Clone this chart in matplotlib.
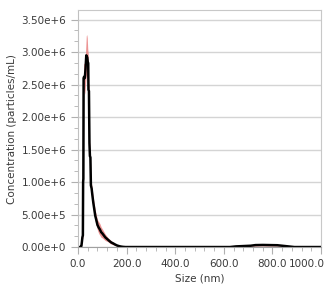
import numpy as np
import matplotlib
matplotlib.use("Agg")
import matplotlib.pyplot as plt
from matplotlib.ticker import FuncFormatter, MultipleLocator, AutoMinorLocator

# size (nm) and mean concentration (particles/mL)
size = [0, 12, 14, 16, 18, 20, 21, 22, 23, 25, 28, 31, 34, 36, 38, 40, 42, 43, 45,
        47, 49, 51, 53, 56, 59, 63, 67, 71, 75, 80, 85, 90, 95, 100, 106, 112, 118,
        124, 130, 137, 145, 152, 160, 168, 176, 185, 195, 600, 625, 650, 680, 710,
        730, 760, 790, 820, 840, 860, 890, 900, 1000]
conc = [0, 0, 0.02e6, 0.08e6, 0.15e6, 0.18e6, 1.0e6, 1.05e6, 2.6e6, 2.62e6, 2.6e6,
        2.75e6, 2.95e6, 2.93e6, 2.92e6, 2.85e6, 2.83e6, 2.42e6, 2.4e6, 1.6e6, 1.4e6,
        1.38e6, 0.95e6, 0.9e6, 0.8e6, 0.68e6, 0.58e6, 0.48e6, 0.42e6, 0.34e6, 0.30e6,
        0.27e6, 0.23e6, 0.21e6, 0.18e6, 0.15e6, 0.13e6, 0.11e6, 0.09e6, 0.07e6, 0.055e6,
        0.04e6, 0.025e6, 0.015e6, 0.008e6, 0.003e6, 0, 0, 0, 0.01e6, 0.015e6, 0.02e6,
        0.03e6, 0.032e6, 0.03e6, 0.028e6, 0.02e6, 0.012e6, 0, 0, 0]
# half width of the error band
err = [0, 0, 0.01e6, 0.02e6, 0.03e6, 0.04e6, 0.25e6, 0.3e6, 0.22e6, 0.2e6, 0.25e6,
       0.25e6, 0.3e6, 0.34e6, 0.3e6, 0.2e6, 0.15e6, 0.1e6, 0.1e6, 0.1e6, 0.1e6,
       0.08e6, 0.08e6, 0.07e6, 0.07e6, 0.07e6, 0.08e6, 0.08e6, 0.08e6, 0.08e6, 0.09e6,
       0.09e6, 0.08e6, 0.07e6, 0.06e6, 0.05e6, 0.04e6, 0.03e6, 0.03e6, 0.025e6, 0.02e6,
       0.015e6, 0.01e6, 0.008e6, 0.005e6, 0.002e6, 0, 0, 0, 0.005e6, 0.008e6, 0.01e6,
       0.015e6, 0.015e6, 0.015e6, 0.012e6, 0.01e6, 0.006e6, 0, 0, 0]

size = np.array(size)
conc = np.array(conc)
err = np.array(err)

txt = "#3a3a3a"
grid = "#d4d4d4"
fs = 7.5

fig = plt.figure(figsize=(3.31, 2.98), dpi=100)
ax = fig.add_axes([0.2357, 0.171, 0.7343, 0.795])

ax.fill_between(size, conc - err, conc + err, color="#e87a7a", alpha=0.8, lw=0)
ax.plot(size, conc, color="black", lw=1.8)

ax.set_xlim(0, 1000)
ax.set_ylim(0, 3.646e6)
ax.xaxis.set_major_locator(MultipleLocator(200))
ax.xaxis.set_minor_locator(AutoMinorLocator(5))
ax.yaxis.set_major_locator(MultipleLocator(0.5e6))
ax.yaxis.set_minor_locator(AutoMinorLocator(3))
# last x label is drawn by hand so it stays inside the figure
ax.xaxis.set_major_formatter(FuncFormatter(lambda v, p: "" if v >= 1000 else "%.1f" % v))
ax.annotate("%.1f" % 1000, xy=(1000, 0), xycoords=("data", "axes fraction"),
            xytext=(3, -8.5), textcoords="offset points", ha="right", va="top",
            fontsize=fs, color=txt)


def sci(v, p):
    if v == 0:
        return "0.00e+0"
    e = int(np.floor(np.log10(abs(v))))
    return "%.2fe+%d" % (v / 10 ** e, e)


ax.yaxis.set_major_formatter(FuncFormatter(sci))
ax.grid(axis="y", color=grid, lw=1)
ax.set_axisbelow(True)
for s in ax.spines.values():
    s.set_color("#c8c8c8")
ax.spines["bottom"].set_color("#a0a0a0")
ax.spines["left"].set_color("#c0c0c0")
ax.tick_params(which="both", colors="#b0b0b0", labelcolor=txt, labelsize=fs)
ax.tick_params(which="major", length=5)
ax.tick_params(which="minor", length=3)

ax.set_xlabel("Size (nm)", fontsize=fs, color=txt, labelpad=3)
ax.set_ylabel("Concentration (particles/mL)", fontsize=fs, color=txt, labelpad=3)

fig.savefig("out.png", dpi=100)
